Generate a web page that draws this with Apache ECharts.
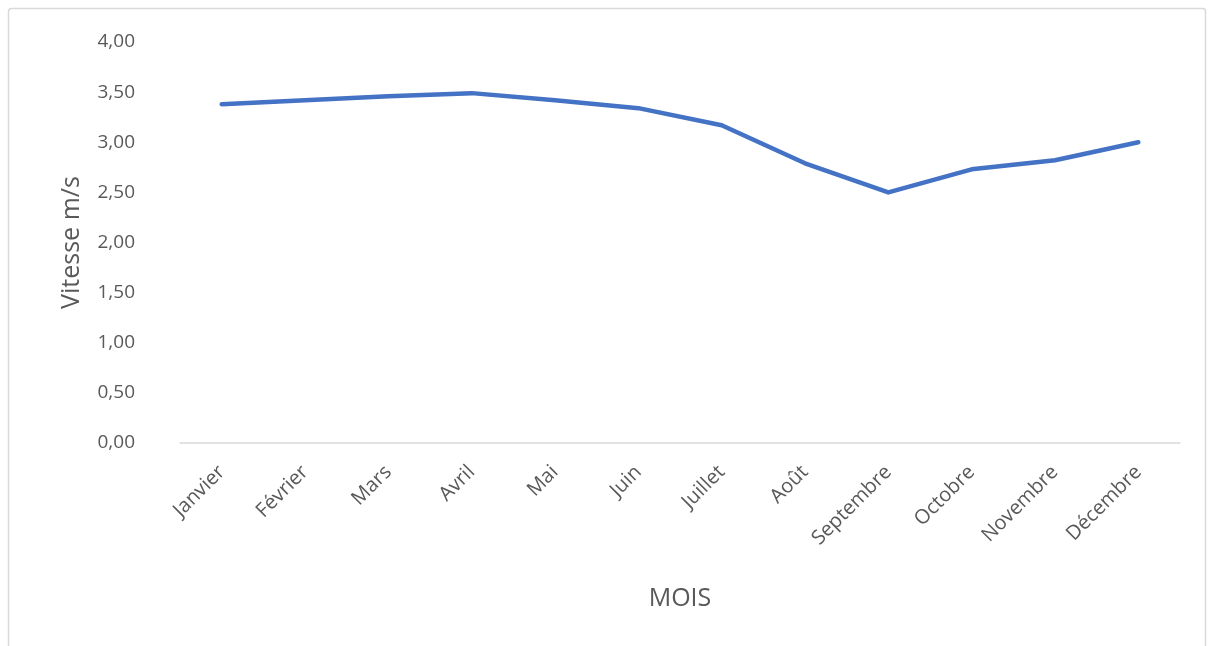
<!DOCTYPE html>
<html>
<head>
<meta charset="utf-8">
<script src="https://cdn.jsdelivr.net/npm/echarts@6/dist/echarts.min.js"></script>
<style>
  html, body { margin: 0; padding: 0; background: #ffffff; }
  #chart { width: 1210px; height: 646px; }
</style>
</head>
<body>
<div id="chart"></div>
<script>
// Vitesse moyenne mensuelle du vent (m/s)
const mois = ['Janvier', 'Février', 'Mars', 'Avril', 'Mai', 'Juin', 'Juillet', 'Août', 'Septembre', 'Octobre', 'Novembre', 'Décembre'];
const vitesse = [3.38, 3.42, 3.46, 3.49, 3.42, 3.34, 3.17, 2.79, 2.50, 2.73, 2.82, 3.00];
const yMin = 0;
const yMax = 4;
const yStep = 0.5;

const textColor = '#595959';
const fontFamily = '"Open Sans", "Liberation Sans", sans-serif';

const chart = echarts.init(document.getElementById('chart'), null, { renderer: 'canvas' });

chart.setOption({
  backgroundColor: '#ffffff',
  animation: false,
  graphic: [{
    type: 'rect',
    shape: { x: 8.5, y: 8.5, width: 1197, height: 660, r: 3 },
    style: { fill: 'none', stroke: '#d9d9d9', lineWidth: 1.5 },
    silent: true
  }],
  grid: { left: 180, right: 30, top: 42, bottom: 203 },
  xAxis: {
    type: 'category',
    data: mois,
    boundaryGap: true,
    name: 'MOIS',
    nameLocation: 'middle',
    nameGap: 143,
    nameTextStyle: { color: textColor, fontSize: 25, fontFamily: fontFamily },
    axisLine: { show: true, lineStyle: { color: '#d9d9d9', width: 1.5 } },
    axisTick: { show: false },
    axisLabel: {
      rotate: 45,
      interval: 0,
      margin: 26,
      color: textColor,
      fontSize: 20,
      fontFamily: fontFamily
    },
    splitLine: { show: false }
  },
  yAxis: {
    type: 'value',
    min: yMin,
    max: yMax,
    interval: yStep,
    name: 'Vitesse m/s',
    nameLocation: 'middle',
    nameGap: 96,
    nameRotate: 90,
    nameTextStyle: { color: textColor, fontSize: 25, fontFamily: fontFamily },
    axisLine: { show: false },
    axisTick: { show: false },
    splitLine: { show: false },
    axisLabel: {
      margin: 45,
      color: textColor,
      fontSize: 19,
      fontFamily: fontFamily,
      formatter: function (v) { return v.toFixed(2).replace('.', ','); }
    }
  },
  series: [{
    type: 'line',
    data: vitesse,
    smooth: false,
    symbol: 'none',
    lineStyle: { color: '#4472C4', width: 4.5, cap: 'round', join: 'round' }
  }]
});
</script>
</body>
</html>
